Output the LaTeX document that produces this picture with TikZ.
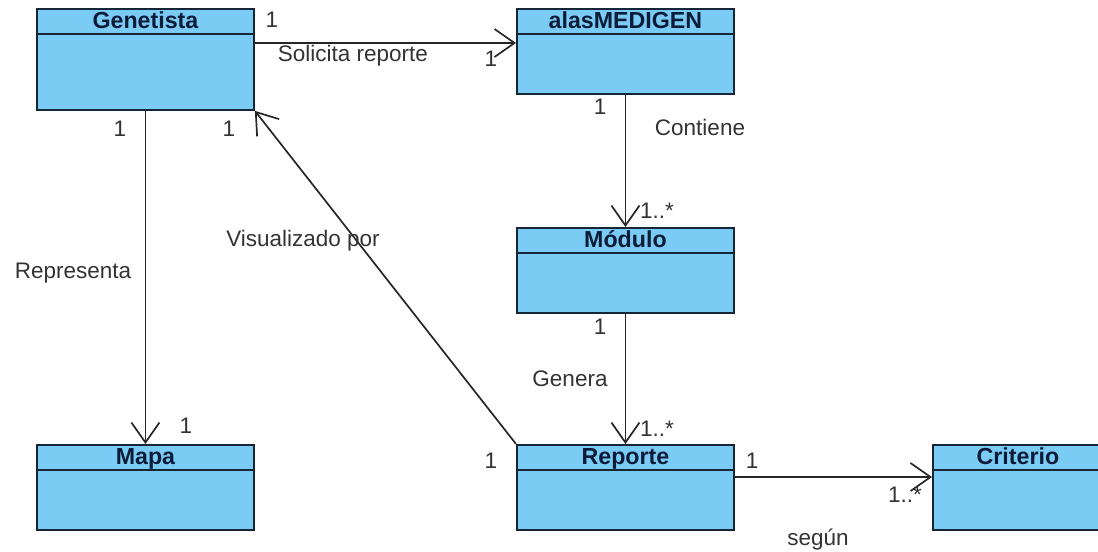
\documentclass[tikz,border=0pt]{standalone}
\usepackage{fontspec}
\setmainfont{Liberation Sans}
\usetikzlibrary{arrows.meta}
\definecolor{celeste}{RGB}{122,204,245}
\definecolor{borde}{RGB}{22,38,56}
\definecolor{tinta}{RGB}{12,28,56}
\begin{document}
\begin{tikzpicture}[
		x=0.025cm, y=-0.025cm,
		clase/.style={draw=borde, fill=celeste, line width=1.3pt, anchor=north west,
				minimum width=5.425cm, minimum height=2.125cm, inner sep=0pt,
				path picture={\draw[borde, line width=1.1pt]
						([yshift=-0.625cm]path picture bounding box.north west) --
						([yshift=-0.625cm]path picture bounding box.north east);}},
		titulo/.style={font=\fontsize{16.5}{18}\selectfont\bfseries, text=tinta,
				inner sep=0pt, text height=11.8pt, text depth=0pt},
		etq/.style={font=\fontsize{16}{18}\selectfont, text=black!80, inner sep=0pt},
		asoc/.style={draw=black!85, line width=1.2pt,
				-{Straight Barb[length=5mm, width=7mm]}}
	]
	\useasboundingbox (0,0) rectangle (1098,552);
	\clip (0,0) rectangle (1098,552);
	% clases
	\node[clase, minimum height=2.525cm] (gen) at (36,8) {};
	\node[clase] (ala) at (516,8) {};
	\node[clase] (mod) at (516,227) {};
	\node[clase] (mapa) at (36,444) {};
	\node[clase] (rep) at (516,444) {};
	\node[clase, minimum width=4.25cm] (crit) at (932,444) {};
	\node[titulo] (tgen) at ([yshift=-0.3125cm]gen.north) {Genetista};
	\node[titulo] (tala) at ([yshift=-0.3125cm]ala.north) {alasMEDIGEN};
	\node[titulo] (tmod) at ([yshift=-0.3125cm]mod.north) {Módulo};
	\node[titulo] (tmapa) at ([yshift=-0.3125cm]mapa.north) {Mapa};
	\node[titulo] (trep) at ([yshift=-0.3125cm]rep.north) {Reporte};
	\node[titulo] (tcrit) at ([yshift=-0.3125cm]crit.north) {Criterio};
	% asociaciones
	\draw[asoc] ([yshift=-0.875cm]gen.north east) -- ([yshift=-0.875cm]ala.north west);
	\draw[asoc] (gen.south) -- (mapa.north);
	\draw[asoc] (ala.south) -- (mod.north);
	\draw[asoc] (mod.south) -- (rep.north);
	\draw[asoc] ([yshift=-0.825cm]rep.north east) -- ([yshift=-0.825cm]crit.north west);
	\draw[asoc] (rep.north west) -- (gen.south east);
	% etiquetas
	\node[etq] (m1) at (272,20) {1};
	\node[etq] (solicita) at (353,56) {Solicita reporte};
	\node[etq] (m2) at (491,59) {1};
	\node[etq] (m3) at (600,107) {1};
	\node[etq] (contiene) at (700,127) {Contiene};
	\node[etq] (m4) at (657,211) {1..*};
	\node[etq] (m5) at (120,129) {1};
	\node[etq] (m6) at (229,129) {1};
	\node[etq] (representa) at (73,273) {Representa};
	\node[etq] (visual) at (303,241) {Visualizado por};
	\node[etq] (m7) at (186,426) {1};
	\node[etq] (m8) at (600,327) {1};
	\node[etq] (genera) at (570,379) {Genera};
	\node[etq] (m9) at (657,429) {1..*};
	\node[etq] (m10) at (491,461) {1};
	\node[etq] (m11) at (752,461) {1};
	\node[etq] (m12) at (905,495) {1..*};
	\node[etq] (segun) at (818,540) {según};
\end{tikzpicture}
\end{document}
